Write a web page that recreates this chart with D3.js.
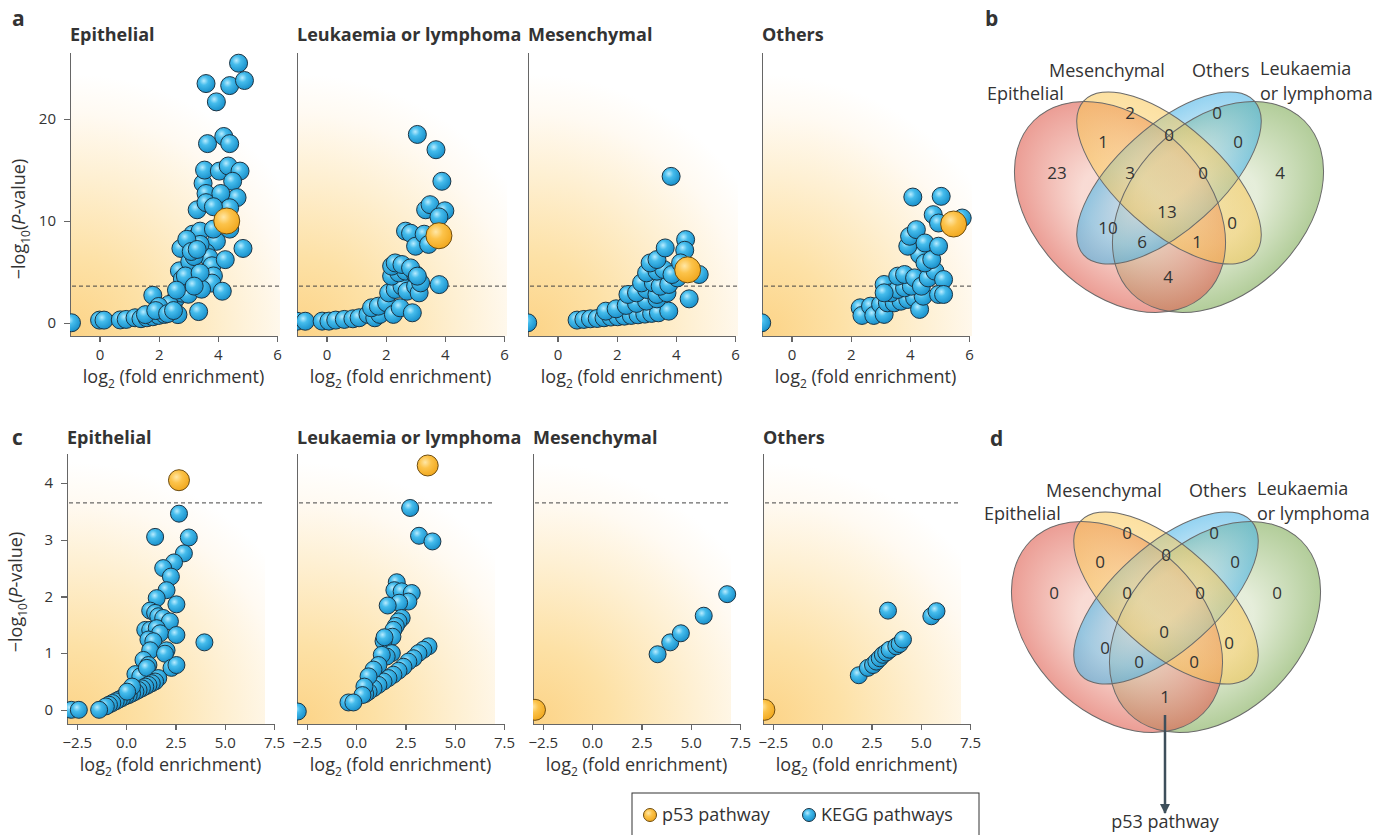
<!DOCTYPE html>
<html>
<head>
<meta charset="utf-8">
<script src="https://cdnjs.cloudflare.com/ajax/libs/d3/7.8.5/d3.min.js"></script>
<style>
	body { margin: 0; background: #fff; }
	svg text { font-family: "Open Sans", "DejaVu Sans", sans-serif; fill: #333; }
	.axis path, .axis line { stroke: #666; stroke-width: 1.4; shape-rendering: crispEdges; }
	.axis text { font-size: 15px; fill: #333; font-family: "Open Sans", sans-serif; }
</style>
</head>
<body>
<svg id="chart" width="1388" height="835"></svg>
<script>

// ---------------- data ----------------

var panelNames = ["Epithelial", "Leukaemia or lymphoma", "Mesenchymal", "Others"];

var xTicksA = [0, 2, 4, 6];
var yTicksA = [0, 10, 20];
var xTicksC = [-2.5, 0, 2.5, 5, 7.5];
var yTicksC = [0, 1, 2, 3, 4];

var thresholdA = 3.6;
var thresholdC = 3.65;

// panel a -- [log2 fold enrichment, -log10 P]
var keggEpithelialA = [[-0.95,0.0],[0.0,0.26],[0.15,0.26],[0.7,0.28],[0.9,0.33],[1.2,0.49],[1.4,0.4],[1.6,0.49],[1.8,0.59],
	[2.0,0.72],[2.2,0.82],[1.55,0.8],[1.8,2.7],[2.65,0.8],[2.5,1.96],[2.6,2.45],[2.8,2.9],[2.95,3.3],[3.0,2.8],[3.35,1.1],
	[2.7,5.1],[2.75,7.3],[3.05,6.0],[3.15,8.7],[3.3,8.5],[3.4,9.0],[3.3,11.1],[3.5,13.7],[3.55,15.0],[3.6,12.7],[3.6,11.8],
	[3.65,17.6],[3.6,23.5],[3.95,21.7],[4.2,18.3],[4.4,17.6],[4.4,23.3],[4.7,25.5],[4.9,23.8],[4.05,14.9],[4.35,15.4],
	[4.75,14.9],[4.5,13.9],[4.65,12.3],[4.1,12.7],[4.4,11.3],[3.85,11.4],[4.4,9.2],[3.95,8.0],[3.85,9.2],[3.6,6.9],[3.7,6.4],
	[3.8,5.6],[3.85,4.6],[3.8,3.9],[4.25,6.2],[4.85,7.3],[4.15,3.1],[3.45,3.3],[3.4,7.7],[3.2,6.5],[2.95,8.2],[2.8,4.3],
	[2.9,4.6],[3.1,7.0],[3.3,7.2],[2.35,1.8],[2.0,1.6],[1.9,1.2],[3.4,4.9],[2.3,0.9],[2.5,1.2],[3.2,3.6],[2.6,3.2]];

var keggLeukaemiaA = [[-1.0,0.15],[-0.72,0.15],[-0.15,0.16],[0.08,0.16],[0.31,0.26],[0.6,0.33],[0.89,0.39],[1.1,0.49],
	[1.4,0.82],[1.63,0.49],[1.8,0.82],[1.52,1.47],[1.75,1.63],[2.03,1.96],[2.26,0.82],[2.49,1.47],[2.9,0.98],[2.1,2.94],
	[2.32,3.27],[2.55,3.59],[2.72,3.1],[3.01,3.59],[3.13,2.94],[2.2,4.58],[2.44,4.9],[2.67,5.07],[3.01,4.74],[3.18,3.92],
	[2.2,5.56],[2.32,5.88],[2.55,5.72],[2.84,5.39],[3.07,4.58],[3.81,3.75],[2.67,9.0],[2.84,8.8],[3.01,7.52],[3.3,8.7],
	[3.45,7.7],[3.35,11.1],[3.5,11.6],[4.0,11.0],[3.8,10.4],[3.9,13.9],[3.7,17.0],[3.07,18.5]];

var keggMesenchymalA = [[-1.01,0.0],[0.66,0.26],[0.89,0.33],[1.11,0.39],[1.34,0.42],[1.57,0.49],[1.8,0.56],[2.03,0.59],
	[2.26,0.65],[2.49,0.72],[2.72,0.78],[2.95,0.85],[3.18,0.92],[3.41,0.98],[3.76,1.14],[1.63,1.14],[1.98,1.37],[2.32,1.7],
	[2.67,1.9],[3.01,2.12],[3.36,2.35],[2.38,2.78],[2.67,2.94],[3.01,3.27],[3.36,2.78],[3.7,2.94],[2.84,3.92],[3.24,3.92],
	[3.47,3.59],[3.76,3.76],[4.05,4.41],[3.01,4.9],[3.36,5.07],[3.59,5.23],[3.87,4.74],[3.13,5.88],[3.36,6.21],[3.64,7.35],
	[4.33,8.17],[4.3,7.12],[4.16,5.88],[4.79,4.74],[4.45,2.35],[3.84,14.38]];

var keggOthersA = [[-1.01,0.0],[2.32,1.47],[2.38,0.72],[2.67,1.63],[2.78,0.72],[3.01,1.8],[3.13,0.82],[3.24,1.96],[3.47,1.96],
	[3.7,2.12],[3.93,2.29],[4.16,2.45],[4.33,1.31],[4.45,2.61],[3.13,3.76],[3.36,2.94],[3.59,3.27],[3.82,3.43],[4.05,3.59],
	[3.13,2.94],[3.59,4.58],[3.82,4.74],[4.16,4.41],[4.39,3.59],[4.62,4.41],[4.85,5.07],[5.14,4.25],[4.97,2.78],[5.14,2.78],
	[4.33,6.7],[4.51,5.88],[4.74,6.21],[3.93,7.52],[3.99,8.5],[4.22,9.15],[4.51,7.84],[4.97,7.52],[4.79,10.62],[4.97,9.8],
	[5.77,10.29],[4.1,12.35],[5.06,12.42]];

var p53A = [[4.3,10.0],[3.8,8.55],[4.4,5.2],[5.48,9.7]];

// panel c
var keggEpithelialC = [[-2.78,0.0],[-2.4,0.0],[2.68,3.46],[1.47,3.05],[3.18,3.04],[2.93,2.76],[2.43,2.6],[1.88,2.5],[2.27,2.35],
	[2.05,2.11],[1.55,1.97],[2.55,1.86],[1.22,1.75],[1.47,1.71],[1.63,1.65],[1.88,1.62],[2.22,1.56],[0.97,1.41],[1.22,1.41],
	[1.55,1.44],[1.72,1.35],[2.55,1.32],[3.97,1.19],[1.13,1.24],[1.38,1.21],[1.22,1.05],[2.05,1.05],[1.97,0.99],[0.88,0.88],
	[1.13,0.79],[2.3,0.74],[2.55,0.79],[0.47,0.63],[0.72,0.59],[1.05,0.74],[1.63,0.56],[1.47,0.5],[1.3,0.47],[1.13,0.44],
	[0.97,0.41],[0.8,0.38],[0.63,0.35],[0.47,0.32],[0.3,0.29],[0.13,0.26],[-0.03,0.24],[-0.2,0.21],[-0.37,0.18],[-0.53,0.15],
	[-0.7,0.12],[-0.87,0.09],[-1.03,0.06],[-1.37,0.0],[0.3,0.41],[0.05,0.32]];

var keggLeukaemiaC = [[-2.96,-0.03],[2.74,3.56],[3.19,3.07],[3.87,2.97],[2.06,2.25],[1.94,2.11],[2.31,2.09],[2.82,2.06],
	[2.65,1.91],[2.18,1.89],[1.6,1.84],[2.31,1.62],[2.15,1.56],[2.01,1.48],[1.89,1.41],[1.84,1.29],[1.39,1.21],[1.44,1.28],
	[1.81,1.0],[1.55,0.94],[1.3,0.97],[3.67,1.12],[3.41,1.06],[3.16,1.0],[2.91,0.91],[2.65,0.85],[2.4,0.76],[2.15,0.69],
	[1.89,0.62],[1.64,0.56],[1.39,0.5],[1.13,0.44],[0.88,0.38],[0.63,0.32],[0.46,0.28],[1.13,0.79],[0.88,0.71],[0.63,0.59],
	[0.42,0.41],[0.32,0.26],[-0.39,0.13],[-0.14,0.13]];

var keggMesenchymalC = [[3.32,0.98],[3.96,1.19],[4.5,1.35],[5.66,1.66],[6.85,2.04]];

var keggOthersC = [[3.34,1.75],[5.54,1.65],[5.8,1.74],[1.86,0.61],[2.32,0.74],[2.58,0.79],[2.75,0.85],[2.92,0.91],
	[3.08,0.97],[3.25,1.01],[3.42,1.06],[3.76,1.12],[3.93,1.16],[4.1,1.24]];

var p53C = [[2.68,4.05],[3.63,4.31],[-2.9,0.0],[-2.93,0.0]];

// venn diagrams (b: all pathways, d: pathways passing the threshold)
var vennSetNames = ["Epithelial", "Mesenchymal", "Others", "Leukaemia|or lymphoma"];
var vennRegions = ["M", "O", "EM", "MO", "OL", "E", "EMO", "MOL", "L", "EMOL", "EO", "ML", "EOL", "EML", "EL"];
var vennCountsB = [2, 0, 1, 0, 0, 23, 3, 0, 4, 13, 10, 0, 6, 1, 4];
var vennCountsD = [0, 0, 0, 0, 0, 0, 0, 0, 0, 0, 0, 0, 0, 0, 1];
var legendLabels = ["p53 pathway", "KEGG pathways"];


// ---------------- shared defs ----------------

var svg = d3.select("#chart");
var defs = svg.append("defs");

// glossy marker fills
var gBlue = defs.append("radialGradient").attr("id", "ptBlue")
	.attr("cx", "38%").attr("cy", "35%").attr("r", "70%");
gBlue.append("stop").attr("offset", 0).attr("stop-color", "#b9ecff");
gBlue.append("stop").attr("offset", 0.35).attr("stop-color", "#45bcec");
gBlue.append("stop").attr("offset", 1).attr("stop-color", "#158cc8");

var gOrange = defs.append("radialGradient").attr("id", "ptOrange")
	.attr("cx", "38%").attr("cy", "35%").attr("r", "70%");
gOrange.append("stop").attr("offset", 0).attr("stop-color", "#ffe7a6");
gOrange.append("stop").attr("offset", 0.4).attr("stop-color", "#fcc34a");
gOrange.append("stop").attr("offset", 1).attr("stop-color", "#f0a61c");

// background shading, centred on the bottom-left corner of each plot
function addShade(id, h) {
	var g = defs.append("radialGradient").attr("id", id)
		.attr("gradientUnits", "userSpaceOnUse")
		.attr("cx", 0).attr("cy", h).attr("r", 262);
	g.append("stop").attr("offset", 0).attr("stop-color", "#fcd386");
	g.append("stop").attr("offset", 0.3).attr("stop-color", "#fde1a6");
	g.append("stop").attr("offset", 0.62).attr("stop-color", "#fef0d3");
	g.append("stop").attr("offset", 0.85).attr("stop-color", "#fffaf2");
	g.append("stop").attr("offset", 1).attr("stop-color", "#ffffff");
}
addShade("shadeA", 284);
addShade("shadeC", 271);


/*
 * VolcanoVis - one scatter panel
 * @param _parentElement -- d3 selection to draw into
 * @param _config        -- layout and data for the panel
 */

VolcanoVis = function(_parentElement, _config) {
	this.parentElement = _parentElement;
	this.config = _config;
	this.kegg = _config.kegg;
	this.p53 = _config.p53;

	this.initVis();
}

VolcanoVis.prototype.initVis = function() {
	var vis = this;
	var cfg = vis.config;

	vis.width = 207;
	vis.height = cfg.height;

	vis.svg = vis.parentElement.append("g")
		.attr("transform", "translate(" + cfg.left + "," + cfg.top + ")");

	vis.svg.append("rect")
		.attr("width", cfg.shadeWidth)
		.attr("height", vis.height)
		.attr("fill", "url(#" + cfg.shade + ")");

	vis.clipId = "clip-" + cfg.id;
	defs.append("clipPath").attr("id", vis.clipId)
		.append("rect")
		.attr("x", 0).attr("y", -40)
		.attr("width", vis.width + 40).attr("height", vis.height + 40);

	// Scales and axes
	vis.x = d3.scaleLinear().domain(cfg.xDomain).range([0, vis.width]);
	vis.y = d3.scaleLinear().domain(cfg.yDomain).range([vis.height, 0]);

	vis.xAxis = d3.axisBottom(vis.x)
		.tickValues(cfg.xTicks)
		.tickFormat(cfg.xFormat)
		.tickSize(6).tickSizeOuter(0).tickPadding(7);

	vis.yAxis = d3.axisLeft(vis.y)
		.tickValues(cfg.showY ? cfg.yTicks : [])
		.tickFormat(d3.format("d"))
		.tickSize(6).tickSizeOuter(0).tickPadding(8);

	vis.svg.append("g").attr("class", "x-axis axis")
		.attr("transform", "translate(0," + vis.height + ")");
	vis.svg.append("g").attr("class", "y-axis axis");

	// significance threshold
	vis.thresholdLine = vis.svg.append("line")
		.attr("stroke", "#444").attr("stroke-width", 1)
		.attr("stroke-dasharray", "4,3");

	vis.pointGroup = vis.svg.append("g").attr("clip-path", "url(#" + vis.clipId + ")");

	// Panel title
	vis.svg.append("text")
		.attr("x", 0).attr("y", cfg.titleY)
		.attr("font-size", 18).attr("font-weight", "bold")
		.attr("fill", "#222")
		.text(cfg.title);

	// Axis title
	var xl = vis.svg.append("text")
		.attr("x", vis.width / 2).attr("y", vis.height + 47)
		.attr("text-anchor", "middle").attr("font-size", 18);
	xl.append("tspan").text("log");
	xl.append("tspan").attr("font-size", 12).attr("dy", 5).text("2");
	xl.append("tspan").attr("dy", -5).text(" (fold enrichment)");

	if (cfg.showY) {
		var yl = vis.svg.append("text")
			.attr("transform", "translate(-45," + cfg.yLabelY + ") rotate(-90)")
			.attr("text-anchor", "middle").attr("font-size", 18);
		yl.append("tspan").text("\u2212log");
		yl.append("tspan").attr("font-size", 12).attr("dy", 5).text("10");
		yl.append("tspan").attr("dy", -5).text("(");
		yl.append("tspan").attr("font-style", "italic").text("P");
		yl.append("tspan").text("-value)");
	}

	vis.wrangleData();
}

VolcanoVis.prototype.wrangleData = function() {
	var vis = this;

	vis.displayData = vis.kegg.map(function(d) { return { x: d[0], y: d[1], p53: false }; });
	vis.displayData.push({ x: vis.p53[0], y: vis.p53[1], p53: true });

	vis.updateVis();
}

VolcanoVis.prototype.updateVis = function() {
	var vis = this;
	var cfg = vis.config;

	vis.thresholdLine
		.attr("x1", 2).attr("x2", cfg.shadeWidth)
		.attr("y1", vis.y(cfg.threshold)).attr("y2", vis.y(cfg.threshold));

	vis.pointGroup.selectAll("circle")
		.data(vis.displayData)
		.enter().append("circle")
		.attr("cx", function(d) { return vis.x(d.x); })
		.attr("cy", function(d) { return vis.y(d.y); })
		.attr("r", function(d) { return d.p53 ? cfg.rP53 : cfg.r; })
		.attr("fill", function(d) { return d.p53 ? "url(#ptOrange)" : "url(#ptBlue)"; })
		.attr("stroke", function(d) { return d.p53 ? "#6e4c0e" : "#1b3444"; })
		.attr("stroke-width", 1);

	vis.svg.select(".x-axis").call(vis.xAxis);
	vis.svg.select(".y-axis").call(vis.yAxis);
}


/*
 * VennVis - four-set ellipse diagram
 */

VennVis = function(_parentElement, _center, _counts) {
	this.parentElement = _parentElement;
	this.center = _center;
	this.counts = _counts;

	this.initVis();
}

VennVis.prototype.initVis = function() {
	var vis = this;

	// drawn in this order, each semi-transparent
	vis.shapes = [
		{ id: "L", dx: 49, dy: 29, rx: 122, ry: 86, rot: -45, edge: "#7eab55", mid: "#d6e3c4", op: 0.62 },
		{ id: "E", dx: -49, dy: 29, rx: 122, ry: 86, rot: 45, edge: "#de5b4d", mid: "#f5c5ba", op: 0.62 },
		{ id: "O", dx: 0, dy: 0, rx: 115, ry: 52, rot: -42, edge: "#3fb0e6", mid: "#b8def3", op: 0.58 },
		{ id: "M", dx: 0, dy: 0, rx: 115, ry: 52, rot: 42, edge: "#f9c652", mid: "#fcd67a", op: 0.55 }
	];

	// label offsets of each region from the diagram centre
	vis.regionPos = {
		M: [-39, -65], O: [48, -65], EM: [-66, -36], MO: [0, -43], OL: [69, -36],
		E: [-112, -5], EMO: [-39, -5], MOL: [34, -5], L: [111, -5], EMOL: [-2, 34],
		EO: [-61, 50], ML: [63, 45], EOL: [-27, 64], EML: [28, 64], EL: [-1, 99]
	};

	vis.svg = vis.parentElement.append("g")
		.attr("transform", "translate(" + vis.center[0] + "," + vis.center[1] + ")");

	vis.shapes.forEach(function(s) {
		var gid = "venn-" + vis.center[1] + "-" + s.id;
		var g = defs.append("radialGradient").attr("id", gid)
			.attr("cx", "50%").attr("cy", "50%").attr("r", "52%");
		g.append("stop").attr("offset", 0).attr("stop-color", s.mid);
		g.append("stop").attr("offset", 0.35).attr("stop-color", s.mid);
		g.append("stop").attr("offset", 1).attr("stop-color", s.edge);
		s.grad = gid;
	});

	vis.svg.append("g").selectAll("ellipse")
		.data(vis.shapes)
		.enter().append("ellipse")
		.attr("transform", function(s) { return "translate(" + s.dx + "," + s.dy + ") rotate(" + s.rot + ")"; })
		.attr("rx", function(s) { return s.rx; })
		.attr("ry", function(s) { return s.ry; })
		.attr("fill", function(s) { return "url(#" + s.grad + ")"; })
		.attr("fill-opacity", function(s) { return s.op; });

	vis.svg.append("g").selectAll("ellipse")
		.data(vis.shapes)
		.enter().append("ellipse")
		.attr("transform", function(s) { return "translate(" + s.dx + "," + s.dy + ") rotate(" + s.rot + ")"; })
		.attr("rx", function(s) { return s.rx; })
		.attr("ry", function(s) { return s.ry; })
		.attr("fill", "none")
		.attr("stroke", "#6a6a6a")
		.attr("stroke-width", 1);

	// set labels (a "|" breaks the name onto a second line)
	var labelPos = [[-182, -78], [-120, -101], [23, -101], [91, -103]];
	var labels = vis.svg.selectAll(".set-label")
		.data(vennSetNames)
		.enter().append("text")
		.attr("class", "set-label")
		.attr("font-size", 18);
	labels.each(function(d, i) {
		d3.select(this).selectAll("tspan")
			.data(d.split("|"))
			.enter().append("tspan")
			.attr("x", labelPos[i][0])
			.attr("y", function(line, j) { return labelPos[i][1] + j * 25; })
			.text(function(line) { return line; });
	});

	vis.updateVis();
}

VennVis.prototype.updateVis = function() {
	var vis = this;

	vis.svg.selectAll(".count")
		.data(vennRegions)
		.enter().append("text")
		.attr("class", "count")
		.attr("x", function(r) { return vis.regionPos[r][0]; })
		.attr("y", function(r) { return vis.regionPos[r][1]; })
		.attr("dy", "0.36em")
		.attr("text-anchor", "middle")
		.attr("font-size", 17)
		.text(function(r, i) { return vis.counts[i]; });
}


// ---------------- build the figure ----------------

var panelLeftA = [70, 297, 528, 762];
var panelLeftC = [67, 297, 533, 763];
var keggA = [keggEpithelialA, keggLeukaemiaA, keggMesenchymalA, keggOthersA];
var keggC = [keggEpithelialC, keggLeukaemiaC, keggMesenchymalC, keggOthersC];

var plots = svg.append("g");

panelNames.forEach(function(name, i) {
	new VolcanoVis(plots, {
		id: "a" + i, left: panelLeftA[i], top: 52, height: 284, shadeWidth: 210, shade: "shadeA",
		xDomain: [-1, 6], yDomain: [-1.3, 26.6], xTicks: xTicksA, yTicks: yTicksA,
		xFormat: d3.format("d"), showY: i === 0, yLabelY: 167, titleY: -11,
		title: name, kegg: keggA[i], p53: p53A[i], threshold: thresholdA, r: 9, rP53: 13
	});
	new VolcanoVis(plots, {
		id: "c" + i, left: panelLeftC[i], top: 453, height: 271, shadeWidth: 198, shade: "shadeC",
		xDomain: [-3, 7.5], yDomain: [-0.25, 4.53], xTicks: xTicksC, yTicks: yTicksC,
		xFormat: d3.format(".1f"), showY: i === 0, yLabelY: 139, titleY: -9,
		title: name, kegg: keggC[i], p53: p53C[i], threshold: thresholdC, r: 8.5, rP53: 10.5
	});
});

var vennB = new VennVis(svg, [1169, 178], vennCountsB);
var vennD = new VennVis(svg, [1166, 598], vennCountsD);

// p53 call-out under panel d
var ep = vennD.regionPos.EL;
defs.append("marker").attr("id", "arrowHead")
	.attr("viewBox", "0 0 10 10").attr("refX", 9).attr("refY", 5)
	.attr("markerWidth", 4).attr("markerHeight", 4).attr("orient", "auto")
	.append("path").attr("d", "M0,0L10,5L0,10z").attr("fill", "#3e4f5b");
vennD.svg.append("line")
	.attr("x1", ep[0]).attr("y1", ep[1] + 18)
	.attr("x2", ep[0]).attr("y2", 215)
	.attr("stroke", "#3e4f5b").attr("stroke-width", 2.5)
	.attr("marker-end", "url(#arrowHead)");
vennD.svg.append("text")
	.attr("x", ep[0]).attr("y", 230)
	.attr("text-anchor", "middle").attr("font-size", 18)
	.text(legendLabels[0]);

// panel letters
var letters = [["a", 12, 26], ["b", 985, 26], ["c", 12, 445], ["d", 990, 446]];
svg.selectAll(".letter")
	.data(letters)
	.enter().append("text")
	.attr("class", "letter")
	.attr("x", function(d) { return d[1]; })
	.attr("y", function(d) { return d[2]; })
	.attr("font-size", 21).attr("font-weight", "bold").attr("fill", "#111")
	.text(function(d) { return d[0]; });

// legend
var legend = svg.append("g").attr("transform", "translate(632,793)");
legend.append("rect")
	.attr("width", 347).attr("height", 60)
	.attr("fill", "#fff").attr("stroke", "#333").attr("stroke-width", 1);
var legendItems = legend.selectAll(".item")
	.data(legendLabels)
	.enter().append("g")
	.attr("transform", function(d, i) { return "translate(" + (i === 0 ? 18 : 177) + ",22)"; });
legendItems.append("circle")
	.attr("r", 6.5)
	.attr("fill", function(d, i) { return i === 0 ? "url(#ptOrange)" : "url(#ptBlue)"; })
	.attr("stroke", function(d, i) { return i === 0 ? "#6e4c0e" : "#1b3444"; });
legendItems.append("text")
	.attr("x", 12).attr("dy", "0.35em")
	.attr("font-size", 18)
	.text(function(d) { return d; });

</script>
</body>
</html>
